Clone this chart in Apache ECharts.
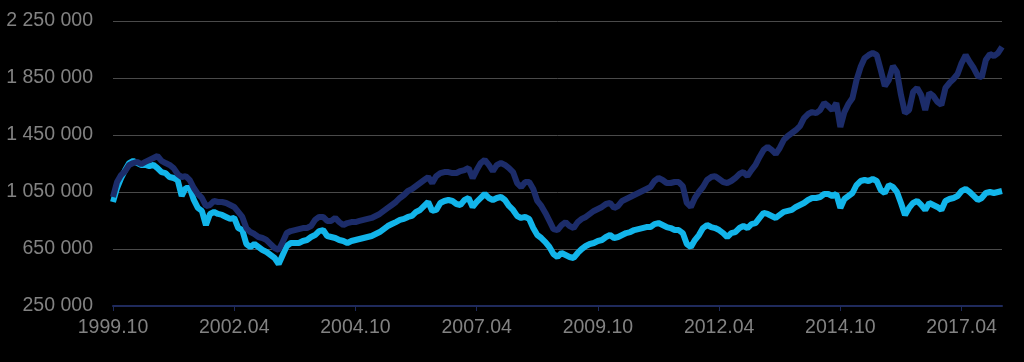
<!DOCTYPE html>
<html>
<head>
<meta charset="utf-8">
<script src="https://cdn.jsdelivr.net/npm/echarts@6/dist/echarts.min.js"></script>
<style>
html,body{margin:0;padding:0;background:#000;}
#chart{width:1024px;height:362px;}
</style>
</head>
<body>
<div id="chart"></div>
<script>
// Monthly observations, 1999.10 .. 2018.06
const startYear = 1999, startMonth = 10, monthCount = 221;
const categories = [];
for (let i = 0; i < monthCount; i++) {
  const m = startMonth - 1 + i;
  const y = startYear + Math.floor(m / 12);
  const mm = (m % 12) + 1;
  categories.push(y + '.' + (mm < 10 ? '0' + mm : mm));
}

const tickValues = [250000, 650000, 1050000, 1450000, 1850000, 2250000];

const darkSeries = [
1015000,1120000,1169000,1197000,1240000,1253000,1261000,1246000,1261000,1275000,
1289000,1303000,1268000,1253000,1240000,1218000,1176000,1155000,1162000,1134000,
1078000,1036000,1008000,952000,959000,987000,980000,980000,973000,959000,
945000,910000,875000,797000,769000,755000,734000,727000,713000,685000,
657000,643000,699000,762000,776000,783000,790000,797000,797000,811000,
854000,875000,875000,847000,847000,868000,839000,818000,832000,839000,
839000,847000,854000,861000,868000,882000,896000,917000,938000,959000,
980000,1008000,1029000,1057000,1071000,1092000,1113000,1134000,1155000,1113000,
1162000,1183000,1190000,1190000,1183000,1183000,1197000,1204000,1218000,1148000,
1204000,1253000,1275000,1240000,1197000,1240000,1253000,1240000,1218000,1190000,
1113000,1085000,1120000,1120000,1071000,987000,952000,903000,847000,790000,
783000,818000,839000,811000,797000,839000,861000,875000,896000,917000,
931000,945000,966000,973000,938000,952000,987000,1001000,1015000,1029000,
1043000,1057000,1071000,1085000,1127000,1148000,1134000,1113000,1113000,1120000,
1120000,1092000,973000,945000,1008000,1050000,1085000,1134000,1155000,1162000,
1141000,1120000,1113000,1127000,1148000,1176000,1190000,1162000,1204000,1240000,
1296000,1345000,1366000,1345000,1317000,1359000,1415000,1443000,1464000,1485000,
1513000,1569000,1597000,1611000,1604000,1625000,1675000,1653000,1625000,1675000,
1506000,1611000,1668000,1710000,1836000,1927000,1990000,2011000,2025000,2011000,
1906000,1794000,1836000,1934000,1892000,1731000,1604000,1625000,1752000,1780000,
1731000,1625000,1745000,1724000,1682000,1661000,1780000,1815000,1843000,1878000,
1955000,2011000,1962000,1920000,1864000,1857000,1976000,2018000,2004000,2025000,
2068000
];

const lightSeries = [
980000,1078000,1148000,1204000,1253000,1268000,1253000,1240000,1240000,1232000,
1240000,1218000,1190000,1183000,1155000,1148000,1134000,1022000,1078000,1078000,
994000,938000,917000,818000,896000,910000,896000,889000,875000,861000,
868000,797000,783000,685000,664000,685000,664000,643000,629000,608000,
587000,545000,608000,671000,692000,692000,692000,706000,713000,734000,
748000,776000,783000,741000,734000,727000,713000,706000,692000,706000,
713000,720000,727000,734000,741000,755000,769000,790000,811000,825000,
839000,854000,861000,875000,882000,910000,924000,952000,980000,917000,
924000,973000,987000,994000,987000,966000,959000,994000,1008000,945000,
980000,1008000,1036000,1008000,994000,1008000,1015000,994000,952000,924000,
882000,868000,875000,861000,797000,748000,727000,699000,664000,615000,
594000,622000,608000,594000,587000,622000,650000,671000,685000,692000,
706000,713000,734000,748000,727000,734000,748000,762000,769000,783000,
790000,797000,804000,804000,825000,832000,818000,804000,797000,783000,
783000,762000,685000,664000,713000,748000,797000,818000,804000,797000,
783000,762000,734000,762000,769000,797000,811000,797000,825000,832000,
868000,903000,896000,882000,868000,889000,910000,917000,924000,945000,
959000,973000,994000,1008000,1008000,1015000,1036000,1036000,1022000,1036000,
938000,1001000,1022000,1043000,1099000,1127000,1134000,1127000,1141000,1127000,
1064000,1043000,1099000,1085000,1050000,973000,889000,938000,973000,987000,
959000,924000,973000,959000,945000,924000,987000,1001000,1008000,1022000,
1057000,1071000,1050000,1022000,994000,1008000,1043000,1050000,1043000,1050000,
1057000
];

function fmt(v) {
  return String(v).replace(/\B(?=(\d{3})+(?!\d))/g, ' ');
}

const chart = echarts.init(document.getElementById('chart'), null, {renderer: 'canvas'});
chart.setOption({
  backgroundColor: '#000000',
  animation: false,
  grid: {left: 113, right: 22, top: 21, bottom: 56, containLabel: false},
  xAxis: {
    type: 'category',
    data: categories,
    boundaryGap: false,
    axisLine: {show: true, lineStyle: {color: '#1f2a5c', width: 2}},
    axisTick: {show: true, interval: 29, length: 5, lineStyle: {color: '#1f2a5c', width: 1}},
    axisLabel: {
      interval: 29, color: '#828282', fontSize: 19.5,
      fontFamily: 'Liberation Sans, Arial, sans-serif', margin: 12
    },
    splitLine: {show: false}
  },
  yAxis: {
    type: 'value',
    min: tickValues[0],
    max: tickValues[tickValues.length - 1],
    interval: 400000,
    axisLine: {show: false},
    axisTick: {show: false},
    axisLabel: {
      color: '#828282', fontSize: 19.5, margin: 20,
      fontFamily: 'Liberation Sans, Arial, sans-serif',
      formatter: fmt
    },
    splitLine: {show: true, lineStyle: {color: '#4a4a4a', width: 1}}
  },
  series: [
    {
      name: 'light', type: 'line', data: lightSeries, showSymbol: false,
      lineStyle: {color: '#12b5ea', width: 6}, itemStyle: {color: '#12b5ea'}
    },
    {
      name: 'dark', type: 'line', data: darkSeries, showSymbol: false,
      lineStyle: {color: '#1c2c69', width: 6}, itemStyle: {color: '#1c2c69'}
    }
  ]
});
</script>
</body>
</html>
